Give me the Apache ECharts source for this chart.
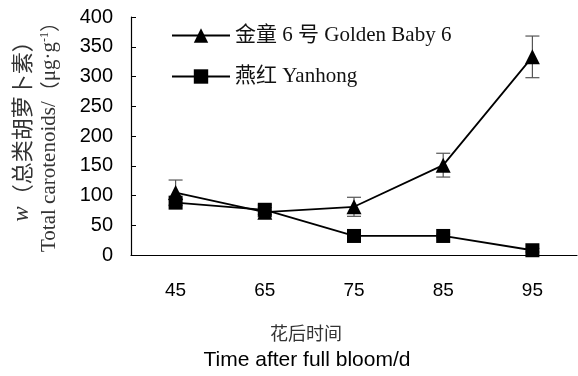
<!DOCTYPE html>
<html><head><meta charset="utf-8">
<script src="https://cdn.jsdelivr.net/npm/echarts@6/dist/echarts.min.js"></script>
<style>html,body{margin:0;padding:0;background:#fff}#c{width:578px;height:376px}</style>
</head><body><div id="c"></div>
<script>
const categories = ['45', '65', '75', '85', '95'];
const goldenBaby = [105, 72, 81, 151, 333];
const goldenBabyErr = [21, 8, 16, 20, 35];
const yanhong = [88, 76, 32, 32, 8];
const yanhongErr = [5, 8, 3, 3, 3];
const yTicks = { min: 0, max: 400, interval: 50 };
const seriesNames = ['金童 6 号 Golden Baby 6', '燕红 Yanhong'];

const chart = echarts.init(document.getElementById('c'), null, { renderer: 'canvas' });

function errorSeries(vals, errs) {
  return {
    type: 'custom', xAxisIndex: 0, yAxisIndex: 0, z: 1, silent: true,
    data: vals.map((v, i) => [i, v - errs[i], v + errs[i]]),
    renderItem: function (params, api) {
      const x = api.value(0);
      const lo = api.coord([x, api.value(1)]);
      const hi = api.coord([x, api.value(2)]);
      const hw = 7;
      const st = { stroke: '#555', lineWidth: 1.2 };
      return { type: 'group', children: [
        { type: 'line', shape: { x1: lo[0], y1: lo[1], x2: hi[0], y2: hi[1] }, style: st },
        { type: 'line', shape: { x1: hi[0] - hw, y1: hi[1], x2: hi[0] + hw, y2: hi[1] }, style: st },
        { type: 'line', shape: { x1: lo[0] - hw, y1: lo[1], x2: lo[0] + hw, y2: lo[1] }, style: st }
      ]};
    }
  };
}

const serif = '"Liberation Serif","Times New Roman","Noto Sans CJK SC",serif';
const option = {
  backgroundColor: '#fff',
  animation: false,
  grid: { left: 131, right: 1, top: 17, bottom: 121, containLabel: false, outerBoundsMode: 'none' },
  legend: {
    orient: 'vertical', left: 166, top: 20, itemWidth: 58, itemHeight: 18, itemGap: 20,
    data: seriesNames,
    textStyle: { fontFamily: serif, fontSize: 21, color: '#111' }
  },
  xAxis: [{
    type: 'category', data: categories, boundaryGap: true,
    axisLine: { lineStyle: { color: '#000', width: 1.2 } },
    axisTick: { alignWithLabel: true, inside: true, length: 6, lineStyle: { color: '#000' } },
    axisLabel: { margin: 26, fontFamily: '"Liberation Sans",Arial,sans-serif', fontSize: 19, color: '#000' }
  }, {
    type: 'category', data: categories, boundaryGap: true, position: 'bottom',
    axisLine: { show: false },
    axisTick: { inside: true, length: 6, lineStyle: { color: '#000' } },
    axisLabel: { show: false }
  }],
  yAxis: {
    type: 'value', min: yTicks.min, max: yTicks.max, interval: yTicks.interval,
    splitLine: { show: false },
    axisLine: { show: true, lineStyle: { color: '#000', width: 1.2 } },
    axisTick: { show: true, inside: true, length: 5, lineStyle: { color: '#000' } },
    axisLabel: { margin: 18, fontFamily: '"Liberation Sans",Arial,sans-serif', fontSize: 20, color: '#000' }
  },
  graphic: [
    { type: 'text', x: 22, y: 126, rotation: Math.PI / 2, style: {
      text: '{w|w}{c|（总类胡萝卜素）}', align: 'center', verticalAlign: 'middle',
      rich: {
        w: { fontFamily: '"Liberation Serif",serif', fontStyle: 'italic', fontSize: 23, fill: '#333' },
        c: { fontFamily: '"Noto Sans CJK SC",sans-serif', fontSize: 22, fill: '#333' }
      } } },
    { type: 'text', x: 49, y: 132, rotation: Math.PI / 2, style: {
      text: '{e|Total carotenoids/}{c|（}{e|μg·g}{sup|-1}{c|）}', align: 'center', verticalAlign: 'middle',
      rich: {
        e: { fontFamily: '"Liberation Serif",serif', fontSize: 21, fill: '#333' },
        c: { fontFamily: '"Noto Sans CJK SC",sans-serif', fontSize: 20, fill: '#333' },
        sup: { fontFamily: '"Liberation Serif",serif', fontSize: 12, fill: '#333', verticalAlign: 'top', padding: [0, 0, 9, 0] }
      } } },
    { type: 'text', style: { text: '花后时间', x: 306, y: 333, align: 'center', verticalAlign: 'middle', font: '18px "Noto Sans CJK SC",sans-serif', fill: '#333' } },
    { type: 'text', style: { text: 'Time after full bloom/d', x: 307, y: 360, align: 'center', verticalAlign: 'middle', font: '21px "Liberation Sans",Arial,sans-serif', fill: '#000' } }
  ],
  series: [
    errorSeries(goldenBaby, goldenBabyErr),
    errorSeries(yanhong, yanhongErr),
    {
      name: seriesNames[0], type: 'line', data: goldenBaby, z: 3,
      symbol: 'triangle', symbolSize: 15, showAllSymbol: true,
      lineStyle: { color: '#000', width: 1.8 }, itemStyle: { color: '#000' }
    },
    {
      name: seriesNames[1], type: 'line', data: yanhong, z: 3,
      symbol: 'rect', symbolSize: 14, showAllSymbol: true,
      lineStyle: { color: '#000', width: 1.8 }, itemStyle: { color: '#000' }
    }
  ]
};
chart.setOption(option);
</script></body></html>
